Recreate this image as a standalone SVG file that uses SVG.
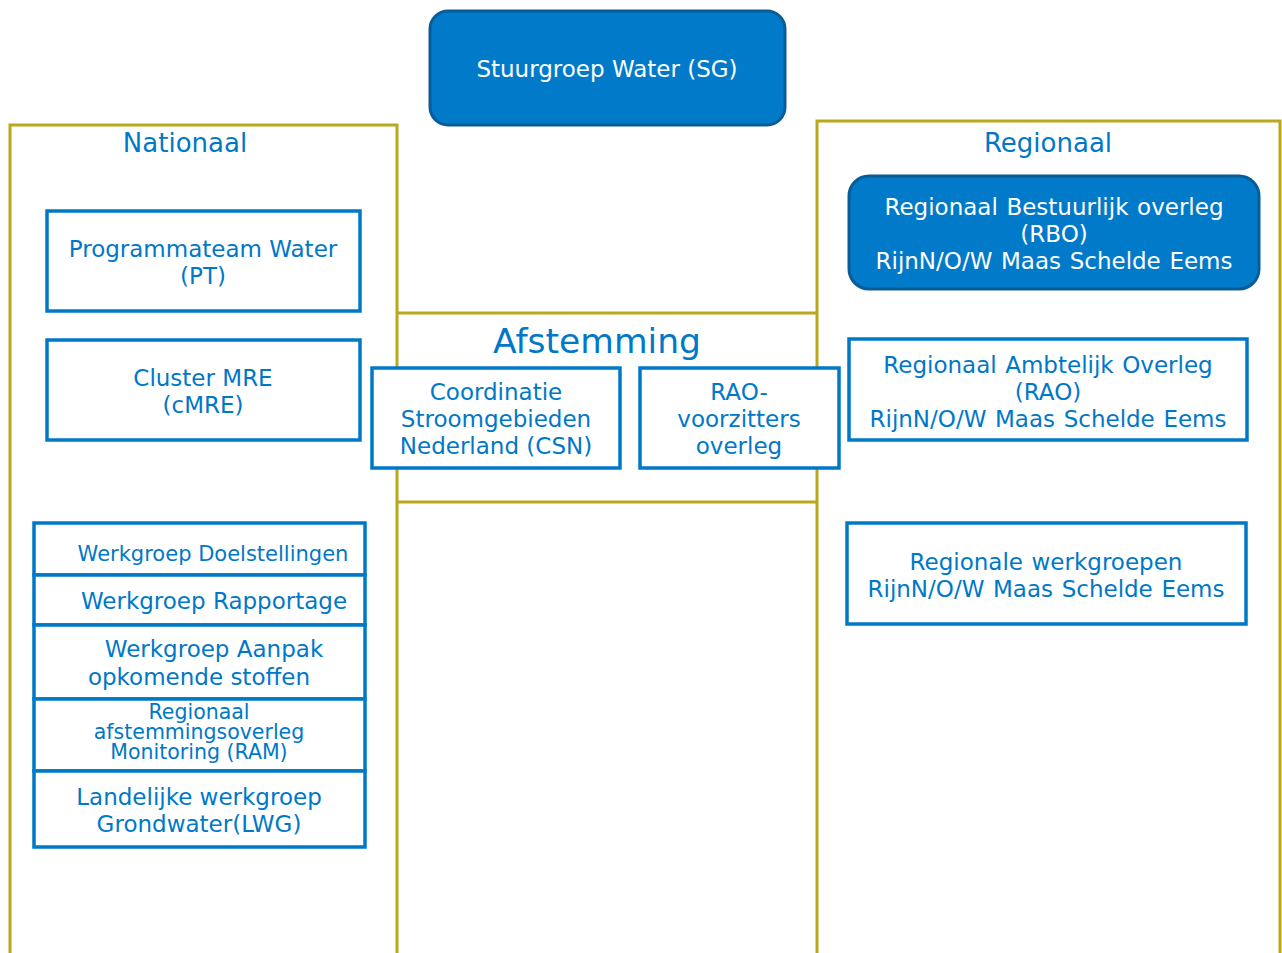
<svg xmlns="http://www.w3.org/2000/svg" width="1282" height="953" viewBox="0 0 1282 953">
<style>
.frame{fill:none;stroke:#BBA71B;stroke-width:3}
.box{fill:#fff;stroke:#0078C8;stroke-width:3.5}
.fill{fill:#007AC9;stroke:#0A5C98;stroke-width:3}
text{font-family:"DejaVu Sans","Liberation Sans",sans-serif;text-anchor:middle;fill:#0078C8;font-size:23px}
.w{fill:#fff}
.title{font-size:26px}
.big{font-size:34.5px}
.sm{font-size:20.5px}
.md{font-size:21px}
.ws{word-spacing:1.3px}
</style>
<rect width="1282" height="953" fill="#fff"/>
<g id="connectors">
<path class="frame" d="M397 313 H817 M397 502 H817"/>
</g>
<g id="nationaal">
<path class="frame" d="M10 955 V125 H397 V955"/>
<text class="title" x="185" y="152">Nationaal</text>
</g>
<g id="regionaal">
<path class="frame" d="M817 955 V121 H1280 V955"/>
<text class="title" x="1048" y="152">Regionaal</text>
</g>
<g id="afstemming">
<text class="big" x="597" y="353">Afstemming</text>
</g>
<g id="sg">
<rect class="fill" x="430" y="11" width="355" height="114" rx="18"/>
<text class="w" x="607" y="77">Stuurgroep Water (SG)</text>
</g>
<g id="pt">
<rect class="box" x="47" y="211" width="313" height="100"/>
<text x="203" y="257">Programmateam Water</text>
<text x="203" y="284">(PT)</text>
</g>
<g id="cmre">
<rect class="box" x="47" y="340" width="313" height="100"/>
<text x="203" y="386">Cluster MRE</text>
<text x="203" y="413">(cMRE)</text>
</g>
<g id="csn">
<rect class="box" x="372" y="368" width="248" height="100"/>
<text x="496" y="400">Coordinatie</text>
<text x="496" y="427">Stroomgebieden</text>
<text x="496" y="454">Nederland (CSN)</text>
</g>
<g id="raov">
<rect class="box" x="640" y="368" width="199" height="100"/>
<text x="739" y="400">RAO-</text>
<text x="739" y="427">voorzitters</text>
<text x="739" y="454">overleg</text>
</g>
<g id="rbo">
<rect class="fill" x="849" y="176" width="410" height="113" rx="20"/>
<text class="w ws" x="1054" y="215">Regionaal Bestuurlijk overleg</text>
<text class="w" x="1054" y="242">(RBO)</text>
<text class="w ws" x="1054" y="269">RijnN/O/W Maas Schelde Eems</text>
</g>
<g id="rao">
<rect class="box" x="849" y="339" width="398" height="101"/>
<text class="ws" x="1048" y="373">Regionaal Ambtelijk Overleg</text>
<text x="1048" y="400">(RAO)</text>
<text class="ws" x="1048" y="427">RijnN/O/W Maas Schelde Eems</text>
</g>
<g id="rwg">
<rect class="box" x="847" y="523" width="399" height="101"/>
<text class="ws" x="1046" y="570">Regionale werkgroepen</text>
<text class="ws" x="1046" y="597">RijnN/O/W Maas Schelde Eems</text>
</g>
<g id="wg-doel">
<rect class="box" x="34" y="523" width="331" height="52"/>
<text class="md" x="213" y="561">Werkgroep Doelstellingen</text>
</g>
<g id="wg-rap">
<rect class="box" x="34" y="575" width="331" height="50"/>
<text x="214" y="609">Werkgroep Rapportage</text>
</g>
<g id="wg-aanpak">
<rect class="box" x="34" y="625" width="331" height="74"/>
<text x="214" y="657">Werkgroep Aanpak</text>
<text x="199" y="685">opkomende stoffen</text>
</g>
<g id="ram">
<rect class="box" x="34" y="699" width="331" height="72"/>
<text class="sm" x="199" y="719">Regionaal</text>
<text class="sm" x="199" y="739">afstemmingsoverleg</text>
<text class="sm" x="199" y="759">Monitoring (RAM)</text>
</g>
<g id="lwg">
<rect class="box" x="34" y="771" width="331" height="76"/>
<text x="199" y="805">Landelijke werkgroep</text>
<text x="199" y="832">Grondwater(LWG)</text>
</g>
</svg>
